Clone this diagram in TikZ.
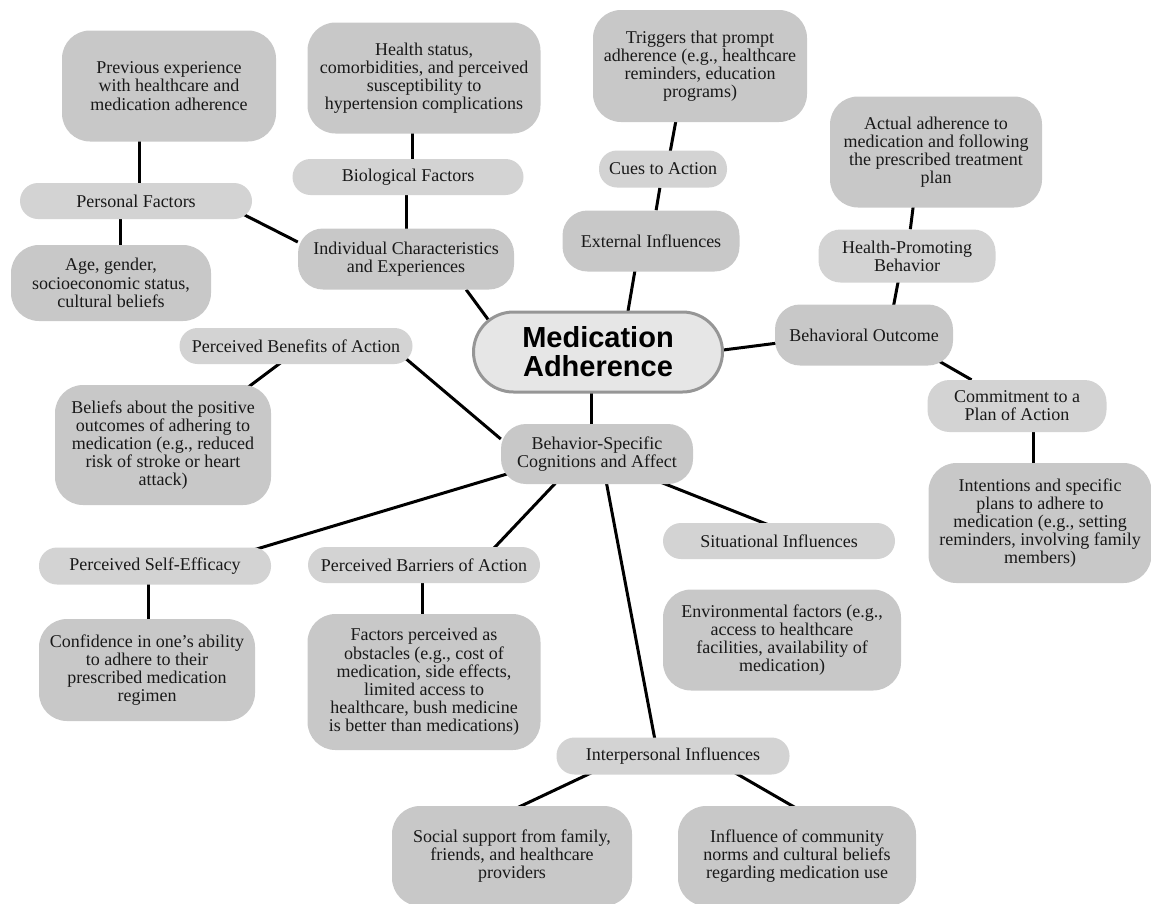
\documentclass[tikz,border=0pt]{standalone}
\usepackage{fontspec}
\setmainfont{Liberation Serif}
\newfontfamily\hubsans{Liberation Sans}
\usepackage{tikz}

\definecolor{boxdark}{RGB}{200,200,200}
\definecolor{boxlight}{RGB}{211,211,211}
\definecolor{hubfill}{RGB}{230,230,230}
\definecolor{hubline}{RGB}{150,150,150}
\definecolor{inktext}{RGB}{25,25,25}
\newcommand{\boxfont}{\fontsize{18}{18.2}\selectfont}
\newcommand{\hubfont}{\hubsans\bfseries\fontsize{29}{29}\selectfont}

\pgfdeclarelayer{links}
\pgfsetlayers{links,main}

\begin{document}
\begin{tikzpicture}[x=1pt, y=-1pt,
    hub/.style={draw=hubline, line width=3pt, fill=hubfill, rounded corners=40pt, minimum width=249pt, minimum height=80pt, align=center, font=\hubfont},
    topic/.style={fill=boxdark, rounded corners=25pt, align=center, text=inktext, font=\boxfont},
    pill/.style={fill=boxlight, rounded corners=18pt, align=center, text=inktext, font=\boxfont},
    note/.style={fill=boxdark, rounded corners=28pt, align=center, text=inktext, font=\boxfont},
    link/.style={line width=3pt, draw=black}]
                \useasboundingbox (0, 0) rectangle (1151, 903);
                \node[hub] (hub) at (598, 352) {Medication\\Adherence};
                \node[topic, minimum width=216pt, minimum height=61pt] (indiv) at (406, 259) {Individual Characteristics\\and Experiences};
                \node[pill, minimum width=232pt, minimum height=36pt] (pf) at (136, 201) {Personal Factors};
                \node[note, minimum width=214pt, minimum height=111pt] (prev) at (169, 86) {Previous experience\\with healthcare and\\medication adherence};
                \node[note, minimum width=200pt, minimum height=76pt] (age) at (111, 283) {Age, gender,\\socioeconomic status,\\cultural beliefs};
                \node[pill, minimum width=231pt, minimum height=36pt] (bio) at (408, 177) {Biological Factors};
                \node[note, minimum width=233pt, minimum height=111pt] (health) at (424, 78) {Health status,\\comorbidities, and perceived\\susceptibility to\\hypertension complications};
                \node[topic, minimum width=177pt, minimum height=61pt] (ext) at (651, 241) {External Influences};
                \node[pill, minimum width=128pt, minimum height=37pt] (cues) at (663, 169) {Cues to Action};
                \node[note, minimum width=214pt, minimum height=112pt] (triggers) at (700, 66) {Triggers that prompt\\adherence (e.g., healthcare\\reminders, education\\programs)};
                \node[topic, minimum width=178pt, minimum height=61pt] (outcome) at (864, 335) {Behavioral Outcome};
                \node[pill, rounded corners=22pt, minimum width=177pt, minimum height=53pt] (hpb) at (907, 256) {Health-Promoting\\Behavior};
                \node[note, minimum width=212pt, minimum height=111pt] (actual) at (936, 152) {Actual adherence to\\medication and following\\the prescribed treatment\\plan};
                \node[pill, rounded corners=22pt, minimum width=179pt, minimum height=52pt] (commit) at (1017, 406) {Commitment to a\\Plan of Action};
                \node[note, minimum width=223pt, minimum height=120pt] (intent) at (1040, 523) {Intentions and specific\\plans to adhere to\\medication (e.g., setting\\reminders, involving family\\members)};
                \node[topic, minimum width=192pt, minimum height=60pt] (bsc) at (597, 454) {Behavior-Specific\\Cognitions and Affect};
                \node[pill, minimum width=233pt, minimum height=36pt] (benefit) at (296, 346) {Perceived Benefits of Action};
                \node[note, minimum width=216pt, minimum height=120pt] (beliefs) at (163, 445) {Beliefs about the positive\\outcomes of adhering to\\medication (e.g., reduced\\risk of stroke or heart\\attack)};
                \node[pill, minimum width=232pt, minimum height=37pt] (selfeff) at (155, 566) {Perceived Self-Efficacy};
                \node[note, minimum width=216pt, minimum height=102pt] (confid) at (147, 670) {Confidence in one's ability\\to adhere to their\\prescribed medication\\regimen};
                \node[pill, minimum width=232pt, minimum height=36pt] (barrier) at (424, 565) {Perceived Barriers of Action};
                \node[note, minimum width=233pt, minimum height=136pt] (obstacle) at (424, 682) {Factors perceived as\\obstacles (e.g., cost of\\medication, side effects,\\limited access to\\healthcare, bush medicine\\is better than medications)};
                \node[pill, minimum width=232pt, minimum height=36pt] (situ) at (779, 541) {Situational Influences};
                \node[note, minimum width=238pt, minimum height=101pt] (environ) at (782, 640) {Environmental factors (e.g.,\\access to healthcare\\facilities, availability of\\medication)};
                \node[pill, minimum width=233pt, minimum height=37pt] (inter) at (673, 756) {Interpersonal Influences};
                \node[note, minimum width=240pt, minimum height=100pt] (social) at (512, 856) {Social support from family,\\friends, and healthcare\\providers};
                \node[note, minimum width=238pt, minimum height=100pt] (norms) at (797, 856) {Influence of community\\norms and cultural beliefs\\regarding medication use};
                \begin{pgfonlayer}{links}
                \draw[link] ([xshift=3pt]pf.center) -- ([xshift=3pt]pf.center |- prev.center);
                \draw[link] ([xshift=-16pt]pf.center) -- ([xshift=-16pt]pf.center |- age.center);
                \draw[link] ([xshift=-17pt, yshift=9pt]pf.south east) -- ([yshift=17pt]indiv.west);
                \draw[link] ([xshift=4pt]bio.center) -- ([xshift=4pt]bio.center |- health.center);
                \draw[link] (indiv.center) -- (indiv.center |- bio.center);
                \draw[link] ([xshift=-48pt]indiv.south east) -- ([xshift=40pt]hub.west);
                \draw[link] ([xshift=4pt]cues.center) -- ([xshift=-14pt]triggers.center);
                \draw[link] (cues) -- (ext);
                \draw[link] ([xshift=-11pt]ext.center) -- ([xshift=23pt]hub.center);
                \draw[link] (hpb) -- ([xshift=-16pt]actual.center);
                \draw[link] ([xshift=-4pt]hpb.center) -- ([xshift=24pt]outcome.center);
                \draw[link] ([yshift=-14pt]hub.center) -- ([yshift=3pt]outcome.center);
                \draw[link] ([yshift=17pt]outcome.center) -- (commit);
                \draw[link] ([xshift=16pt]commit.center) -- ([xshift=16pt]commit.center |- intent.center);
                \draw[link] ([xshift=-6pt]bsc.center) -- ([xshift=-6pt]bsc.center |- hub.center);
                \draw[link] ([xshift=-18pt, yshift=15pt]benefit.south east) -- ([yshift=15pt]bsc.west);
                \draw[link] ([xshift=7pt]benefit.center) -- ([xshift=8pt]beliefs.center);
                \draw[link] ([yshift=7pt]bsc.center) -- ([xshift=85pt, yshift=12pt]selfeff.center);
                \draw[link] ([xshift=-7pt]selfeff.center) -- ([xshift=-7pt]selfeff.center |- confid.center);
                \draw[link] ([xshift=-14pt]bsc.center) -- ([xshift=54pt]barrier.center);
                \draw[link] ([xshift=-2pt]barrier.center) -- ([xshift=-2pt]barrier.center |- obstacle.center);
                \draw[link] ([yshift=-3pt]bsc.center) -- ([yshift=12pt]situ.center);
                \draw[link] ([xshift=4pt]bsc.center) -- ([xshift=-15pt]inter.center);
                \draw[link] ([xshift=-46pt]inter.center) -- ([xshift=-97pt]social.center);
                \draw[link] ([xshift=33pt]inter.center) -- ([xshift=82pt]norms.center);
                \end{pgfonlayer}
            \end{tikzpicture}
\end{document}
